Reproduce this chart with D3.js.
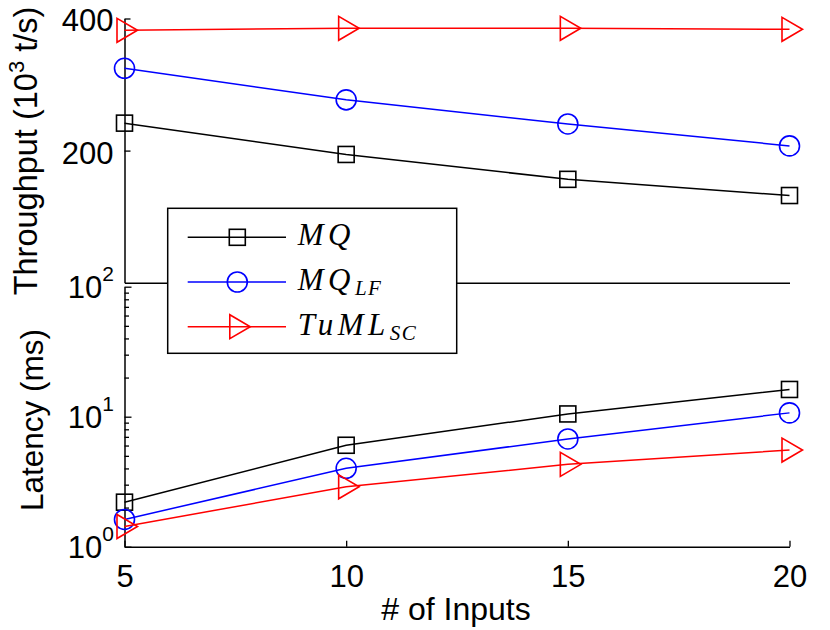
<!DOCTYPE html>
<html>
<head>
<meta charset="utf-8">
<script src="https://cdn.jsdelivr.net/npm/d3@7"></script>
<style>
  body { margin: 0; background: #fff; }
  svg { display: block; }
  .tick text, .lbl { font-family: "Liberation Sans", Arial, sans-serif; fill: #000; }
  .leg { font-family: "Liberation Serif", "Times New Roman", serif; font-style: italic; fill: #000; }
</style>
</head>
<body>
<div id="chart"></div>
<script>
// data
const inputs = [5, 10, 15, 20];
const throughputMQ = [231, 196, 172, 158];
const throughputMQLF = [308, 261, 230, 205];
const throughputTuML = [376, 380, 380, 378];
const latencyMQ = [2.20, 6.03, 10.5, 16.2];
const latencyMQLF = [1.62, 4.01, 6.74, 10.7];
const latencyTuML = [1.43, 2.89, 4.30, 5.54];

const xTicks = [5, 10, 15, 20];
const throughputTicks = [200, 400];
const latencyTicks = [1, 10, 100];
const latencyMinor = [2, 3, 4, 5, 6, 7, 8, 9, 20, 30, 40, 50, 60, 70, 80, 90];

const series = [
    { name: 'MQ', sub: '', color: '#000000', marker: 'square', tp: throughputMQ, lat: latencyMQ },
    { name: 'MQ', sub: 'LF', color: '#0000ff', marker: 'circle', tp: throughputMQLF, lat: latencyMQLF },
    { name: 'TuML', sub: 'SC', color: '#ff0000', marker: 'triangle', tp: throughputTuML, lat: latencyTuML }
];

// dimensions
const dim = { width: 830, height: 630 };
const plot = { left: 124.5, right: 789.5, topY0: 18.5, topY1: 282.7, botY0: 286.7, botY1: 546.7 };

const svg = d3.select('#chart')
    .append('svg')
    .attr('width', dim.width)
    .attr('height', dim.height);

// scales
const x = d3.scaleLinear().domain([5, 20]).range([plot.left, plot.right]);
const yTop = d3.scaleLog().domain([100, 400]).range([plot.topY1, plot.topY0]);
const yBot = d3.scaleLog().domain([1, 100]).range([plot.botY1, plot.botY0]);

const tickFont = 31;

// axes
function styleAxis(g) {
    g.select('.domain').attr('stroke', '#000').attr('stroke-width', 1.5);
    g.selectAll('.tick line').attr('stroke', '#000').attr('stroke-width', 1.3);
    g.selectAll('.tick text').attr('font-size', tickFont);
}

// top panel left axis
svg.append('g')
    .attr('transform', `translate(${plot.left},0)`)
    .call(d3.axisLeft(yTop).tickValues(throughputTicks).tickFormat(d3.format('d'))
        .tickSize(-6).tickSizeOuter(0).tickPadding(11))
    .call(styleAxis)
    .call(g => g.selectAll('.tick text').attr('dy', '0.4em'));

// top panel bottom line (no ticks)
svg.append('g')
    .attr('transform', `translate(0,${plot.topY1})`)
    .call(d3.axisBottom(x).tickValues([]).tickSizeOuter(0))
    .call(styleAxis);

// bottom panel left axis, major + minor
svg.append('g')
    .attr('transform', `translate(${plot.left},0)`)
    .call(d3.axisLeft(yBot).tickValues(latencyTicks).tickFormat('').tickSize(-7).tickSizeOuter(0))
    .call(styleAxis);

svg.append('g')
    .attr('transform', `translate(${plot.left},0)`)
    .call(d3.axisLeft(yBot).tickValues(latencyMinor).tickFormat('').tickSize(-4.5).tickSizeOuter(0))
    .call(styleAxis)
    .call(g => g.select('.domain').remove());

// power-of-ten labels
const powLabels = svg.append('g').attr('class', 'lbl');
latencyTicks.forEach(v => {
    const t = powLabels.append('text')
        .attr('x', 114)
        .attr('y', yBot(v))
        .attr('dy', '0.37em')
        .attr('text-anchor', 'end')
        .attr('font-size', tickFont);
    t.append('tspan').text('10');
    t.append('tspan').attr('font-size', 21).attr('dy', -17).text(Math.round(Math.log10(v)));
});

// bottom x axis
svg.append('g')
    .attr('transform', `translate(0,${plot.botY1})`)
    .call(d3.axisBottom(x).tickValues(xTicks).tickFormat(d3.format('d'))
        .tickSize(-6).tickSizeOuter(0).tickPadding(18))
    .call(styleAxis);

svg.selectAll('.tick text').attr('font-family', '"Liberation Sans", Arial, sans-serif');

// axis titles
const tpLabel = svg.append('text')
    .attr('class', 'lbl')
    .attr('transform', 'translate(37,151) rotate(-90)')
    .attr('text-anchor', 'middle')
    .attr('font-size', 32.5);
tpLabel.append('tspan').text('Throughput (10');
tpLabel.append('tspan').attr('font-size', 22).attr('dy', -13).text('3');
tpLabel.append('tspan').attr('dy', 13).text(' t/s)');

svg.append('text')
    .attr('class', 'lbl')
    .attr('transform', 'translate(43,420) rotate(-90)')
    .attr('text-anchor', 'middle')
    .attr('font-size', 31.5)
    .text('Latency (ms)');

svg.append('text')
    .attr('class', 'lbl')
    .attr('x', 456)
    .attr('y', 620)
    .attr('text-anchor', 'middle')
    .attr('font-size', 32)
    .text('# of Inputs');

// markers
function drawMarker(g, type, color) {
    if (type === 'square') {
        g.append('rect').attr('x', -8).attr('y', -8).attr('width', 16).attr('height', 16);
    } else if (type === 'circle') {
        g.append('circle').attr('r', 10);
    } else {
        g.append('path').attr('d', 'M-7.5,-12L-7.5,12L13,0Z');
    }
    g.selectAll('*').attr('fill', 'none').attr('stroke', color).attr('stroke-width', 1.6);
}

// lines
function drawPanel(yScale, key) {
    const line = d3.line().x((d, i) => x(inputs[i])).y(d => yScale(d));
    series.forEach(s => {
        const g = svg.append('g');
        g.append('path')
            .attr('d', line(s[key]))
            .attr('fill', 'none')
            .attr('stroke', s.color)
            .attr('stroke-width', 1.5);
        s[key].forEach((v, i) => {
            const m = g.append('g').attr('transform', `translate(${x(inputs[i])},${yScale(v)})`);
            drawMarker(m, s.marker, s.color);
        });
    });
}

drawPanel(yTop, 'tp');
drawPanel(yBot, 'lat');

// legend
const legend = svg.append('g').attr('transform', 'translate(167.7,208.3)');
legend.append('rect')
    .attr('width', 289)
    .attr('height', 145)
    .attr('fill', '#fff')
    .attr('stroke', '#000')
    .attr('stroke-width', 1.5);

series.forEach((s, i) => {
    const row = legend.append('g').attr('transform', `translate(0,${29 + i * 44.7})`);
    row.append('line')
        .attr('x1', 20).attr('x2', 118.3)
        .attr('stroke', s.color).attr('stroke-width', 1.5);
    const m = row.append('g').attr('transform', 'translate(69.6,0)');
    drawMarker(m, s.marker, s.color);
    const t = row.append('text')
        .attr('class', 'leg')
        .attr('x', 130)
        .attr('y', 8)
        .attr('font-size', 31)
        .attr('letter-spacing', 4.5);
    t.append('tspan').text(s.name);
    if (s.sub) {
        t.append('tspan').attr('font-size', 21).attr('dy', 5).attr('letter-spacing', 1.5).text(s.sub);
    }
});
</script>
</body>
</html>
